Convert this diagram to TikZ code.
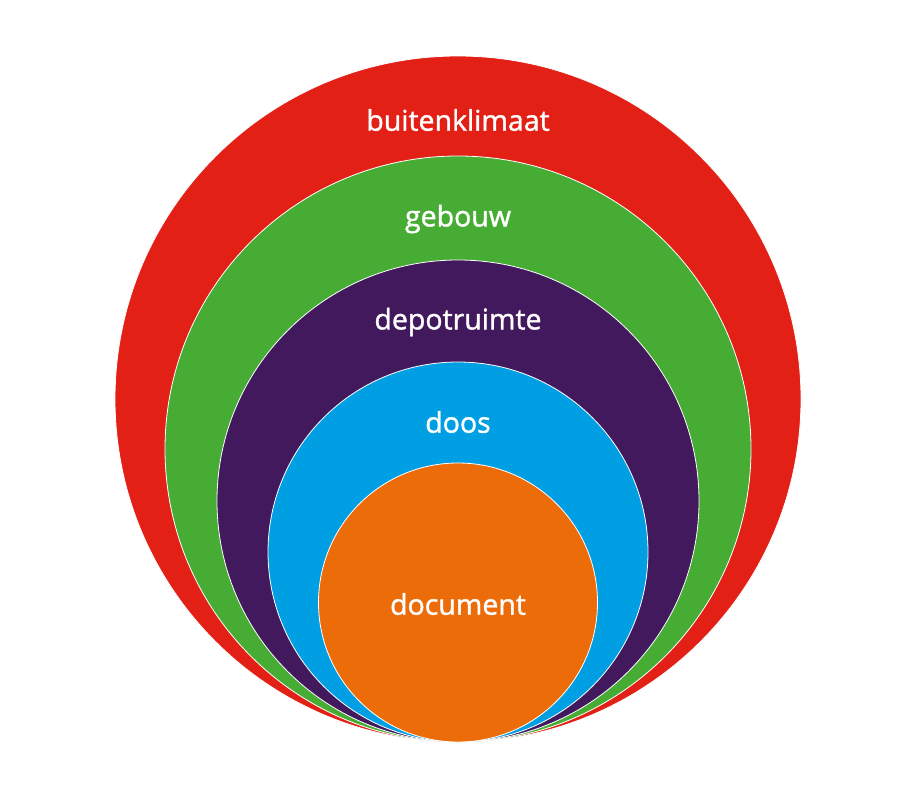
\documentclass[tikz,border=0pt]{standalone}
\usepackage{fontspec}
\setmainfont{Open Sans}
\usepackage{tikz}
\definecolor{klimaatred}{RGB}{227,32,22}
\definecolor{gebouwgreen}{RGB}{70,172,52}
\definecolor{depotpurple}{RGB}{66,25,93}
\definecolor{doosblue}{RGB}{0,159,227}
\definecolor{docorange}{RGB}{236,108,9}
\begin{document}
\begin{tikzpicture}[x=1pt, y=-1pt, every node/.style={inner sep=0pt},
	ring/.style={circle, draw=white, line width=0.8pt},
	lbl/.style={text=white, font=\fontsize{28.5}{32}\selectfont\addfontfeature{FakeBold=1.3}}]
		\useasboundingbox (0,0) rectangle (915,800);
		%Rings
		\node [ring, fill=klimaatred, minimum size=686pt] (buiten) at (458,399) {};
		\node [ring, fill=gebouwgreen, minimum size=586pt] (gebouw) at (458,449) {};
		\node [ring, fill=depotpurple, minimum size=482pt] (depot) at (458,501) {};
		\node [ring, fill=doosblue, minimum size=380pt] (doos) at (458,552) {};
		\node [ring, fill=docorange, minimum size=279pt] (document) at (458,602.5) {};
		%Labels
		\node [lbl] (tbuiten) at (458,120) {buitenklimaat};
		\node [lbl] (tgebouw) at (458,219) {gebouw};
		\node [lbl] (tdepot) at (458,322) {depotruimte};
		\node [lbl] (tdoos) at (458,422) {doos};
		\node [lbl] (tdocument) at (458,604) {document};
\end{tikzpicture}
\end{document}
